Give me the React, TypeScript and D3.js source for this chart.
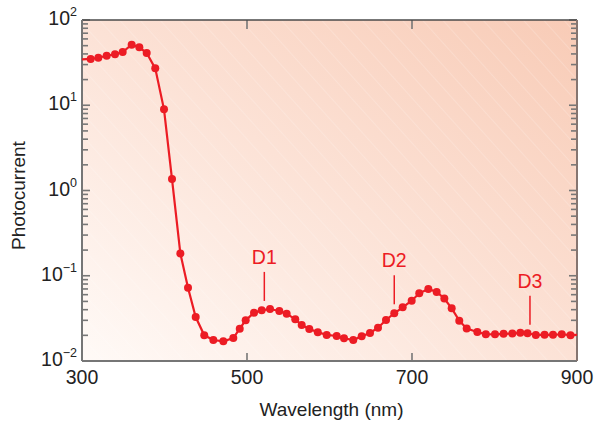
import React from "react";
import * as d3 from "d3";

// Wavelength (nm) and photocurrent (a.u.)
const wavelengths = [
  300, 310.5, 319.8, 329.9, 340.0, 349.3, 360.2, 369.5, 378.4, 388.8, 399.4,
  409.1, 419.2, 428.5, 437.8, 448.2, 459.2, 471.3, 483.4, 491.2, 498.4,
  508.5, 517.8, 527.9, 539.2, 548.1, 558.5, 566.3, 575.5, 585.8, 596.6,
  608.7, 617.6, 628.8, 639.0, 649.1, 658.8, 668.5, 678.5, 688.7, 699.6,
  708.8, 719.8, 729.9, 739.2, 748.1, 757.3, 766.3, 779.2, 789.5, 800.6,
  811.0, 821.6, 831.3, 840.0, 850.1, 860.7, 870.9, 881.5, 892.1, 900,
];
const photocurrent = [
  34.6, 34.9, 36.1, 38.1, 39.6, 42.1, 51.3, 47.8, 41.0, 27.1, 8.96,
  1.36, 0.183, 0.0724, 0.0328, 0.02, 0.01763, 0.01703, 0.01861, 0.02393, 0.03,
  0.0369, 0.0393, 0.0407, 0.0386, 0.0359, 0.0308, 0.0264, 0.0237, 0.0218, 0.0202,
  0.01965, 0.01846, 0.01763, 0.0195, 0.0213, 0.0246, 0.0303, 0.0363, 0.0426, 0.051,
  0.0622, 0.0699, 0.0645, 0.0541, 0.0415, 0.0297, 0.02405, 0.0219, 0.0206, 0.02056,
  0.02085, 0.02096, 0.0214, 0.02114, 0.0202, 0.0203, 0.0203, 0.0206, 0.0201, 0.0202,
];

const xTickValues = [300, 500, 700, 900];
const yMajorExponents = [2, 1, 0, -1, -2];

const annotationLabels = ["D1", "D2", "D3"];
const annotationWavelengths = [521, 678.5, 843];

const W = 597;
const H = 424;
const margin = { left: 82, right: 20, top: 20, bottom: 63 };
const RED = "#ec1c24";
const FONT = "'Liberation Sans', Arial, Helvetica, sans-serif";

export default function App() {
  const x = d3.scaleLinear().domain([300, 900]).range([margin.left, W - margin.right]);
  const y = d3.scaleLog().domain([0.01, 100]).range([H - margin.bottom, margin.top]);

  const data = wavelengths.map((w, i) => ({ w, v: photocurrent[i] }));
  const line = d3
    .line<{ w: number; v: number }>()
    .x((d) => x(d.w))
    .y((d) => y(d.v));

  const [x0, x1] = x.range();
  const [y0, y1] = y.range();

  const yTicks = y.ticks();
  const isMajor = (t: number) => Math.abs(Math.log10(t) - Math.round(Math.log10(t))) < 1e-6;

  const interp = (w: number) => {
    const i = d3.bisector((d: { w: number }) => d.w).left(data, w);
    const a = data[Math.max(0, i - 1)];
    const b = data[Math.min(data.length - 1, i)];
    if (a.w === b.w) return a.v;
    const t = (w - a.w) / (b.w - a.w);
    return Math.pow(10, Math.log10(a.v) + t * (Math.log10(b.v) - Math.log10(a.v)));
  };

  const axisColor = "#767676";

  return (
    <svg
      width={W}
      height={H}
      style={{ position: "absolute", left: 0, top: 0, background: "#fff" }}
      fontFamily={FONT}
    >
      <defs>
        <linearGradient id="bg" x1="0" y1="1" x2="1" y2="0">
          <stop offset="0%" stopColor="#fffaf7" />
          <stop offset="50%" stopColor="#fce2d6" />
          <stop offset="100%" stopColor="#f8cbb6" />
        </linearGradient>
        <pattern
          id="stripes"
          width="15"
          height="15"
          patternUnits="userSpaceOnUse"
          patternTransform="rotate(-42)"
        >
          <line x1="0" y1="0" x2="0" y2="15" stroke="#ffffff" strokeOpacity="0.35" strokeWidth="1" />
        </pattern>
        <clipPath id="plot">
          <rect x={x0} y={y1} width={x1 - x0} height={y0 - y1} />
        </clipPath>
      </defs>

      <rect x={x0} y={y1} width={x1 - x0} height={y0 - y1} fill="url(#bg)" />
      <rect x={x0} y={y1} width={x1 - x0} height={y0 - y1} fill="url(#stripes)" />

      {/* y ticks left and right */}
      {yTicks.map((t, i) => {
        const len = isMajor(t) ? 8 : 6;
        const yy = y(t);
        return (
          <g key={"yt" + i} stroke={axisColor} strokeWidth={1.6}>
            <line x1={x0} x2={x0 + len} y1={yy} y2={yy} />
            <line x1={x1} x2={x1 - len} y1={yy} y2={yy} />
          </g>
        );
      })}

      {/* x ticks top and bottom */}
      {xTickValues.map((t, i) => (
        <g key={"xt" + i} stroke={axisColor} strokeWidth={1.6}>
          <line x1={x(t)} x2={x(t)} y1={y0} y2={y0 - 8} />
          <line x1={x(t)} x2={x(t)} y1={y1} y2={y1 + 9} />
        </g>
      ))}

      {/* axes frame */}
      <line x1={x0} x2={x1} y1={y1} y2={y1} stroke="#4a4a4a" strokeWidth={1.6} />
      <line x1={x0} x2={x1} y1={y0} y2={y0} stroke={axisColor} strokeWidth={2} />
      <line x1={x0} x2={x0} y1={y1} y2={y0} stroke={axisColor} strokeWidth={2} />
      <line x1={x1} x2={x1} y1={y1} y2={y0} stroke="#857570" strokeWidth={2} />

      {/* data */}
      <g clipPath="url(#plot)">
        <path d={line(data) || ""} fill="none" stroke={RED} strokeWidth={2.2} />
        {data
          .filter((d) => d.w > 300 && d.w < 900)
          .map((d, i) => (
            <circle key={"c" + i} cx={x(d.w)} cy={y(d.v)} r={4} fill={RED} />
          ))}
      </g>

      {/* annotations */}
      {annotationLabels.map((lab, i) => {
        const w = annotationWavelengths[i];
        const cy = y(interp(w));
        const bottom = cy - 9;
        const top = cy - 38;
        return (
          <g key={"an" + i}>
            <line x1={x(w)} x2={x(w)} y1={top} y2={bottom} stroke={RED} strokeWidth={1.5} />
            <text x={x(w)} y={top - 8} textAnchor="middle" fill={RED} fontSize={19.5}>
              {lab}
            </text>
          </g>
        );
      })}

      {/* x tick labels */}
      {xTickValues.map((t, i) => (
        <text key={"xl" + i} x={x(t)} y={y0 + 22.5} textAnchor="middle" fontSize={19.5} fill="#222">
          {t}
        </text>
      ))}

      {/* y tick labels */}
      {yMajorExponents.map((e, i) => {
        const yy = y(Math.pow(10, e));
        return (
          <text key={"yl" + i} x={x0 - 5} y={yy + 5} textAnchor="end" fontSize={19.5} fill="#222">
            <tspan>10</tspan>
            <tspan fontSize={12.5} dy={-9}>
              {e < 0 ? "\u2212" + Math.abs(e) : String(e)}
            </tspan>
          </text>
        );
      })}

      {/* axis titles */}
      <text x={(x0 + x1) / 2 + 2} y={H - 8} textAnchor="middle" fontSize={19} fill="#222">
        Wavelength (nm)
      </text>
      <text
        transform={`translate(25, ${(y0 + y1) / 2 + 5}) rotate(-90)`}
        textAnchor="middle"
        fontSize={19}
        fill="#222"
      >
        Photocurrent
      </text>
    </svg>
  );
}
